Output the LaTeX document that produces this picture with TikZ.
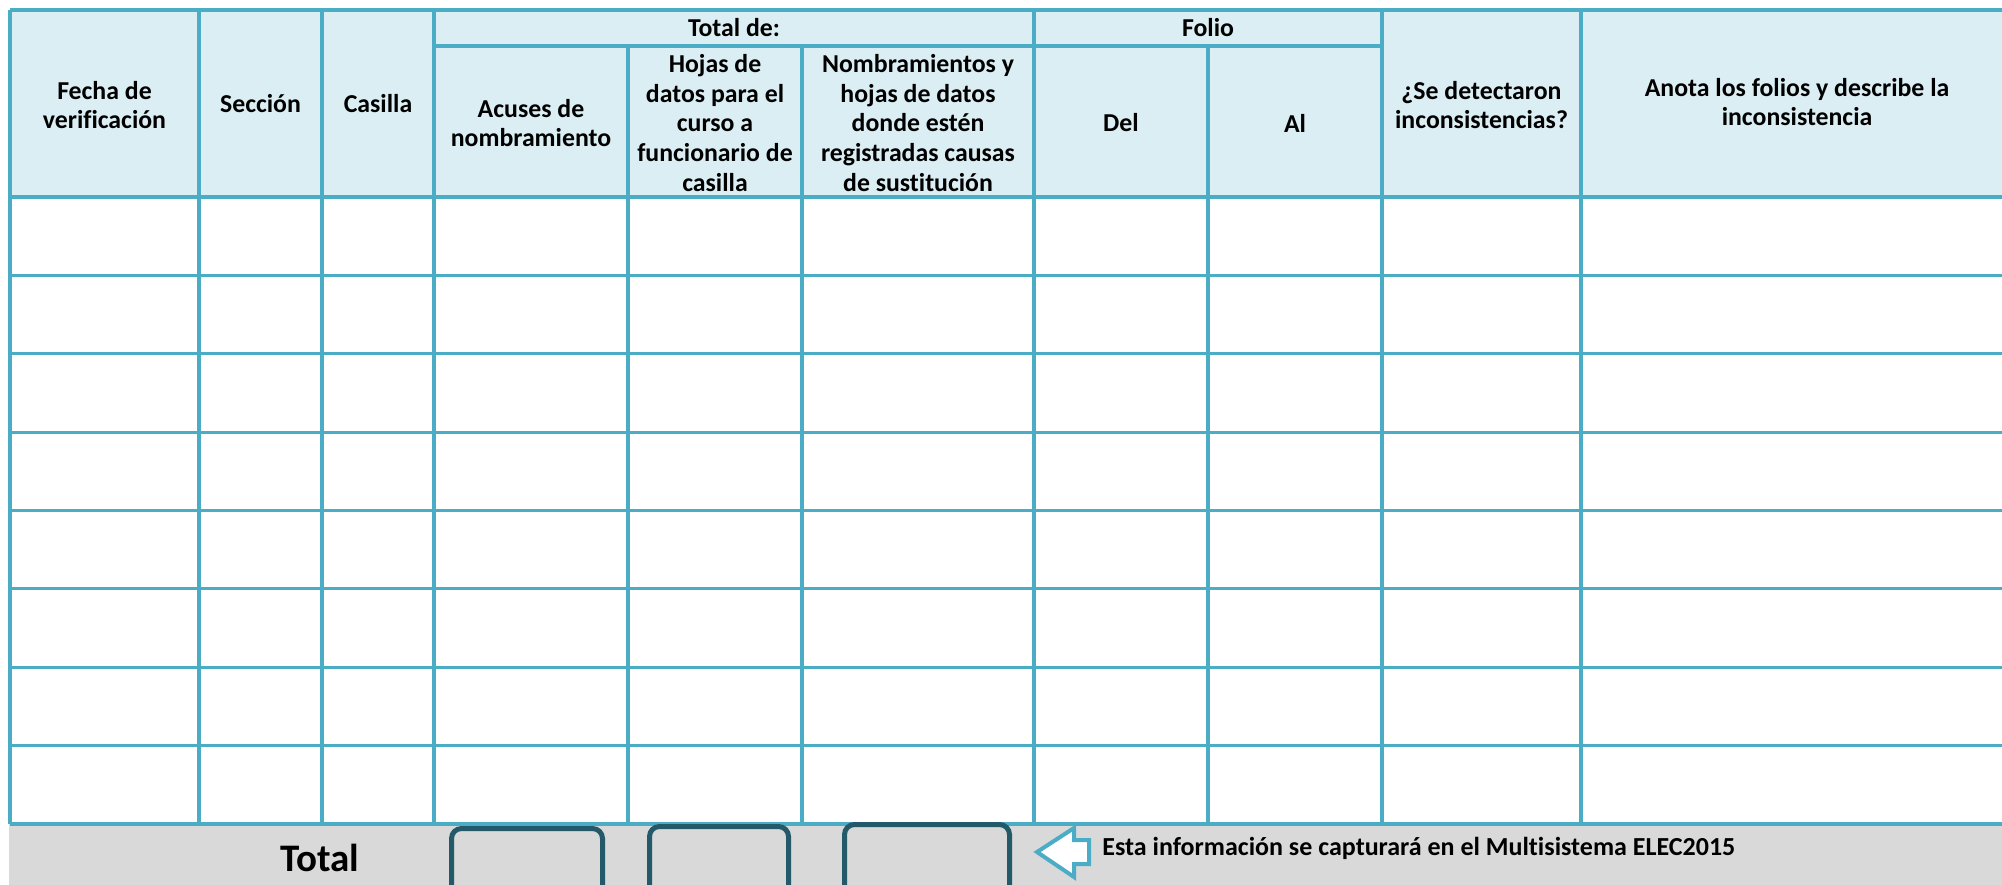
\documentclass[tikz,border=0pt]{standalone}
\usepackage{fontspec}
\setmainfont[Ligatures={NoCommon}]{Carlito}
\usetikzlibrary{calc}
\definecolor{gridblue}{RGB}{75,172,198}
\definecolor{headfill}{RGB}{218,238,243}
\definecolor{bandgray}{RGB}{217,217,217}
\definecolor{boxteal}{RGB}{35,89,104}
\tikzset{
    head/.style={align=center, inner sep=0pt, font=\fontsize{12.9}{14.8}\selectfont\bfseries},
    gridline/.style={draw=gridblue, line width=1.6pt},
    totalbox/.style={draw=boxteal, line width=2.5pt, rounded corners=5pt},
}
\begin{document}
\begin{tikzpicture}[x=0.5pt, y=-0.5pt]
    \useasboundingbox (0,0) rectangle (2002,884);
    \clip (0,0) rectangle (2002,884);

    \fill[headfill] (10,10) rectangle (2013,197);
    \fill[bandgray] (9,824) rectangle (2013,900);

    \draw[gridline] (10,10) -- (2013,10);
    \draw[gridline] (434,46) -- (1382,46);
    \foreach \r in {0,...,8}
        \draw[gridline] (10,{197+78.375*\r}) -- (2013,{197+78.375*\r});
    \foreach \x in {10,199,322,434,1034,1382,1581,2013}
        \draw[gridline] (\x,10) -- (\x,824);
    \foreach \x in {628,802,1208}
        \draw[gridline] (\x,46) -- (\x,824);

    \node[head] (fecha) at (104.5,105) {Fecha de\\verificación};
    \node[head] (seccion) at (260.5,104) {Sección};
    \node[head] (casilla) at (378,104) {Casilla};
    \node[head] (totalde) at (734,28) {Total de:};
    \node[head] (acuses) at (531,123) {Acuses de\\nombramiento};
    \node[head] (hojas) at (715,123) {Hojas de\\datos para el\\curso a\\funcionario de\\casilla};
    \node[head] (nombramientos) at (918,123) {Nombramientos y\\hojas de datos\\donde estén\\registradas causas\\de sustitución};
    \node[head] (folio) at (1208,28) {Folio};
    \node[head] (del) at (1121,123) {Del};
    \node[head] (al) at (1295,123) {Al};
    \node[head] (detectaron) at (1481.5,105) {¿Se detectaron\\inconsistencias?};
    \node[head] (anota) at (1797,102) {Anota los folios y describe la\\inconsistencia};

    \node[inner sep=0pt, font=\fontsize{19.5}{23}\selectfont\bfseries] (total) at (320,858) {Total};
    \draw[totalbox] (451.5,828.5) rectangle (602.5,910);
    \draw[totalbox] (649.5,826.5) rectangle (788.5,910);
    \draw[totalbox] (844.5,824.5) rectangle (1009.5,910);

    \draw[draw=gridblue, fill=white, line width=2pt, line join=miter]
        (1037,852) -- (1074,828) -- (1074,840) -- (1089,840) -- (1089,864)
        -- (1074,864) -- (1074,877) -- cycle;
    \node[anchor=base west, inner sep=0pt, font=\fontsize{13}{15}\selectfont\bfseries] (info) at (1102,855)
        {Esta información se capturará en el Multisistema ELEC2015};
\end{tikzpicture}
\end{document}
